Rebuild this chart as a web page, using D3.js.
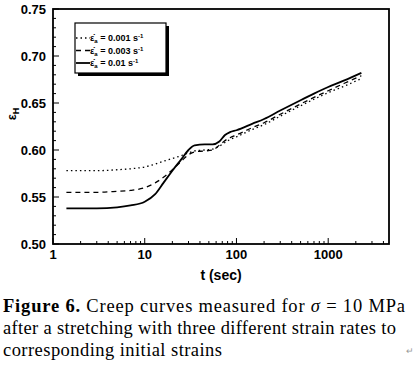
<!DOCTYPE html>
<html><head><meta charset="utf-8">
<script src="https://cdn.jsdelivr.net/npm/d3@7"></script>
<style>body{margin:0;background:#fff}svg{display:block}</style>
</head><body>
<script>
const time = [1.4, 2, 3, 5, 7, 10, 13, 16, 20, 25, 30, 35, 45, 55, 65, 75, 85, 100, 150, 200, 300, 500, 700, 1000, 1500, 2300];
const rate001 = [0.578,0.578,0.578,0.579,0.580,0.582,0.585,0.588,0.591,0.594,0.597,0.599,0.600,0.601,0.604,0.608,0.611,0.614,0.622,0.627,0.636,0.647,0.654,0.661,0.668,0.676];
const rate003 = [0.555,0.555,0.555,0.556,0.557,0.560,0.565,0.571,0.579,0.588,0.595,0.598,0.599,0.600,0.605,0.610,0.613,0.616,0.624,0.629,0.638,0.649,0.656,0.663,0.671,0.679];
const rate01  = [0.538,0.538,0.538,0.539,0.541,0.545,0.553,0.565,0.578,0.590,0.600,0.605,0.606,0.606,0.609,0.616,0.619,0.621,0.628,0.633,0.642,0.653,0.660,0.667,0.674,0.682];
const seriesNames = ["0.001", "0.003", "0.01"];
const yTicks = [0.50, 0.55, 0.60, 0.65, 0.70, 0.75];
const xTicks = [1, 10, 100, 1000];
const captionLines = [
  ["Figure 6.", " Creep curves measured for ", "σ", " = 10 MPa"],
  ["after a stretching with three different strain rates to"],
  ["corresponding initial strains"]
];

const W = 415, H = 365;
const svg = d3.select("body").append("svg").attr("width", W).attr("height", H);
const L = 53, R = 389, T = 9, B = 244;
const x = d3.scaleLog().domain([1, 4600]).range([L, R]);
const y = d3.scaleLinear().domain([0.5, 0.75]).range([B, T]);
const font = "Liberation Sans, Arial, sans-serif";

// minor ticks left
const yMinor = d3.range(0.50, 0.7501, 0.01);
svg.append("g").selectAll("line").data(yMinor).join("line")
  .attr("x1", L).attr("x2", (d,i) => L + (i % 5 === 0 ? 6 : 3))
  .attr("y1", d => y(d)).attr("y2", d => y(d))
  .attr("stroke", "#000").attr("stroke-width", 1);
// bottom ticks (log)
const xMinor = [];
[1,10,100,1000].forEach(dec => { for (let k=1;k<10;k++){ const v=dec*k; if (v<=4600) xMinor.push(v);} });
svg.append("g").selectAll("line").data(xMinor).join("line")
  .attr("x1", d => x(d)).attr("x2", d => x(d))
  .attr("y1", B).attr("y2", d => B - (xTicks.includes(d) ? 6 : 3))
  .attr("stroke", "#000").attr("stroke-width", 1);

// frame
svg.append("rect").attr("x", L).attr("y", T).attr("width", R-L).attr("height", B-T)
  .attr("fill", "none").attr("stroke", "#000").attr("stroke-width", 1.8);

// tick labels
svg.append("g").selectAll("text").data(yTicks).join("text")
  .attr("x", L - 7).attr("y", d => y(d) + 4.5).attr("text-anchor", "end")
  .attr("font-family", font).attr("font-weight", "bold").attr("font-size", 13)
  .text(d => d.toFixed(2));
svg.append("g").selectAll("text").data(xTicks).join("text")
  .attr("x", d => x(d)).attr("y", 259).attr("text-anchor", "middle")
  .attr("font-family", font).attr("font-weight", "bold").attr("font-size", 13)
  .text(d => d);

// axis titles
svg.append("text").attr("x", 221).attr("y", 280).attr("text-anchor", "middle")
  .attr("font-family", font).attr("font-weight", "bold").attr("font-size", 14).text("t (sec)");
const yl = svg.append("text").attr("transform", "translate(16,114) rotate(-90)").attr("text-anchor", "middle")
  .attr("font-family", font).attr("font-weight", "bold").attr("font-size", 13);
yl.append("tspan").text("ε");
yl.append("tspan").attr("font-size", 9).attr("dy", 3).text("H");

// curves
const styles = [
  {dash: "1.5,3", w: 1.3},
  {dash: "5,4", w: 1.3},
  {dash: null, w: 1.8}
];
const allSeries = [rate001, rate003, rate01];
const line = d3.line().x(d => x(d[0])).y(d => y(d[1])).curve(d3.curveMonotoneX);
allSeries.forEach((s, i) => {
  svg.append("path").datum(time.map((t, j) => [t, s[j]]))
    .attr("d", line).attr("fill", "none").attr("stroke", "#000")
    .attr("stroke-width", styles[i].w)
    .attr("stroke-dasharray", styles[i].dash);
});

// legend
const lg = svg.append("g");
lg.append("rect").attr("x", 78).attr("y", 26).attr("width", 91).attr("height", 50).attr("fill", "#000");
lg.append("rect").attr("x", 75).attr("y", 23).attr("width", 91).attr("height", 50)
  .attr("fill", "#fff").attr("stroke", "#000").attr("stroke-width", 1.2);
seriesNames.forEach((n, i) => {
  const yy = 38 + i * 12.5;
  lg.append("line").attr("x1", 76).attr("x2", 90).attr("y1", yy).attr("y2", yy)
    .attr("stroke", "#000").attr("stroke-width", styles[i].w).attr("stroke-dasharray", styles[i].dash);
  const t = lg.append("text").attr("x", 90).attr("y", yy + 3)
    .attr("font-family", font).attr("font-weight", "bold").attr("font-size", 9);
  t.append("tspan").text("ε̇");
  t.append("tspan").attr("font-size", 6).attr("dy", 2).text("a");
  t.append("tspan").attr("dy", -2).text(" = " + n + " s");
  t.append("tspan").attr("font-size", 6).attr("dy", -3).text("-1");
});

// caption
const serif = "Liberation Serif, Times New Roman, serif";
const baselines = [312, 334, 356];
const lengths = [402, 393, 219];
captionLines.forEach((parts, i) => {
  const t = svg.append("text").attr("x", 3).attr("y", baselines[i])
    .attr("font-family", serif).attr("font-size", 18.5)
    .attr("textLength", lengths[i]).attr("lengthAdjust", "spacing");
  parts.forEach((p, k) => {
    const ts = t.append("tspan").text(p);
    if (i === 0 && k === 0) ts.attr("font-weight", "bold");
    if (i === 0 && k === 2) ts.attr("font-style", "italic");
  });
});
svg.append("text").attr("x", 406).attr("y", 354).attr("font-family", font)
  .attr("font-size", 9).attr("fill", "#999").text("↵");
</script>
</body></html>
